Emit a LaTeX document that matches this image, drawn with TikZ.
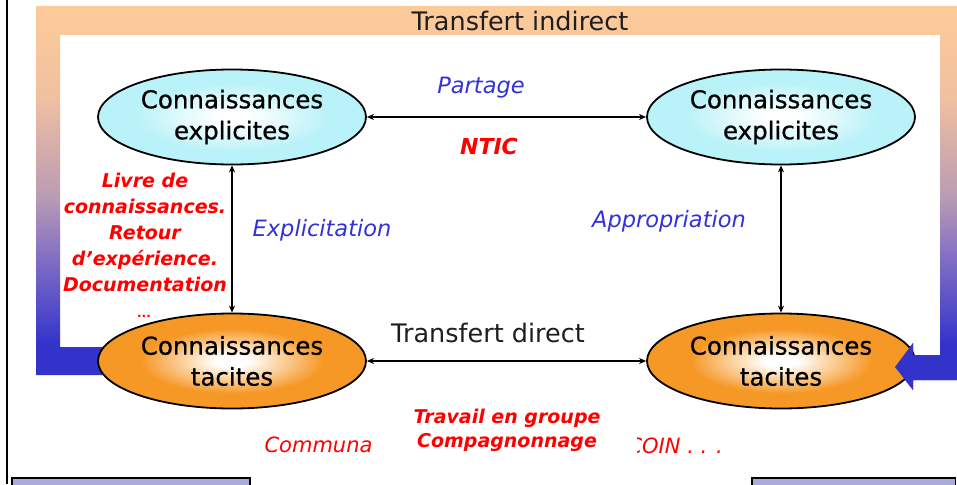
\documentclass[tikz,border=0pt]{standalone}
\usepackage{fontspec}
\setmainfont{DejaVu Sans}
\newfontfamily\ellfont{DejaVu Sans}[FakeBold=0.7]
\usetikzlibrary{shapes.geometric,arrows.meta}
\definecolor{peach}{RGB}{253,203,153}
\definecolor{mauve}{RGB}{185,155,180}
\definecolor{lilac}{RGB}{135,115,195}
\definecolor{peach2}{RGB}{240,192,160}
\definecolor{fblue}{RGB}{51,51,204}
\definecolor{tblue}{RGB}{50,50,215}
\definecolor{tred}{RGB}{255,0,0}
\definecolor{ecyan}{RGB}{185,242,248}
\definecolor{eorange}{RGB}{246,152,38}
\definecolor{lav}{RGB}{170,170,220}
\definecolor{tgray}{RGB}{30,30,30}
\pgfdeclareverticalshading{framesh}{100bp}{color(0bp)=(fblue); color(31bp)=(fblue); color(43bp)=(lilac); color(50bp)=(mauve); color(63bp)=(peach2); color(75bp)=(peach); color(100bp)=(peach)}
\pgfdeclareradialshading{cyansh}{\pgfpoint{0bp}{0bp}}{color(0bp)=(white); color(3bp)=(white); color(18bp)=(ecyan); color(50bp)=(ecyan)}
\pgfdeclareradialshading{orgsh}{\pgfpoint{0bp}{0bp}}{color(0bp)=(white); color(3bp)=(white); color(17bp)=(eorange); color(50bp)=(eorange)}
\tikzset{
  knode/.style={ellipse, draw=black, line width=1.8pt, minimum width=268pt, minimum height=95pt, inner sep=0pt, align=center, font=\ellfont\fontsize{24.5}{31}\selectfont, text=black},
  explnode/.style={knode, shading=cyansh},
  tacnode/.style={knode, shading=orgsh},
  dblarr/.style={line width=1.5pt, {Stealth[length=7pt,width=6pt]}-{Stealth[length=7pt,width=6pt]}},
  bluelab/.style={text=tblue, font=\fontsize{22.5}{26}\selectfont\itshape},
  redlab/.style={text=tred, font=\fontsize{19}{26}\selectfont\bfseries\itshape, align=center},
  redreg/.style={text=tred, font=\fontsize{21}{24}\selectfont\itshape},
  graylab/.style={text=tgray, font=\fontsize{25.5}{28}\selectfont},
  bar/.style={draw=black, line width=1.5pt, fill=lav}
}
\begin{document}
\begin{tikzpicture}[x=1pt,y=-1pt]
\useasboundingbox (0,0) rectangle (957,484);
\fill[white] (0,0) rectangle (957,484);
% left black line
\draw[line width=2.5pt] (7,0) -- (7,484);
% gradient frame
\shade[shading=framesh] (36,6) -- (957,6) -- (957,380) -- (913,380) -- (913,390) -- (895,367) -- (913,343) -- (913,355) -- (940,355) -- (940,35) -- (60,35) -- (60,347) -- (150,347) -- (150,375) -- (36,375) -- cycle;
% ellipses
\node[explnode] (el1) at (232,117) {Connaissances\\explicites};
\node[explnode] (el2) at (781,117) {Connaissances\\explicites};
\node[tacnode] (el3) at (232,361) {Connaissances\\tacites};
\node[tacnode] (el4) at (781,361) {Connaissances\\tacites};
% arrow head of the frame over the right ellipse
\fill[fblue] (957,355) -- (957,380) -- (913,380) -- (913,390) -- (895,367) -- (913,343) -- (913,355) -- cycle;
% connectors
\draw[dblarr] (el1) -- (el2);
\draw[dblarr] (el3) -- (el4);
\draw[dblarr] (el1) -- (el3);
\draw[dblarr] (el2) -- (el4);
% labels
\node[graylab] (ti) at (520,21) {Transfert indirect};
\node[graylab] (td) at (488,333) {Transfert direct};
\node[bluelab] (pa) at (481,88) {Partage};
\node[text=tred, font=\fontsize{22}{24}\selectfont\bfseries\itshape] (nt) at (489,146) {NTIC};
\node[bluelab] (ex) at (322,230) {Explicitation};
\node[bluelab] (ap) at (669,221) {Appropriation};
\node[redlab] (li) at (145,232.5) {Livre de\\connaissances.\\Retour\\d'expérience.\\Documentation};
\node[text=tred, font=\fontsize{12}{14}\selectfont\bfseries] (dots) at (144,316) {...};
% partially hidden bottom text
\node[redreg, anchor=west] (co) at (261,445) {Communaut};
\node[redreg, anchor=west] (coin) at (624,446) {COIN . . .};
\fill[white] (373,385) rectangle (637,455);
\fill[white] (250,455) rectangle (752,484);
\node[redlab, font=\fontsize{19}{24}\selectfont\bfseries\itshape] (tg) at (507,430) {Travail en groupe\\Compagnonnage};
% bottom bars
\draw[bar] (12,478) rectangle (250,488);
\draw[bar] (752,478) rectangle (955.5,488);
\end{tikzpicture}
\end{document}
